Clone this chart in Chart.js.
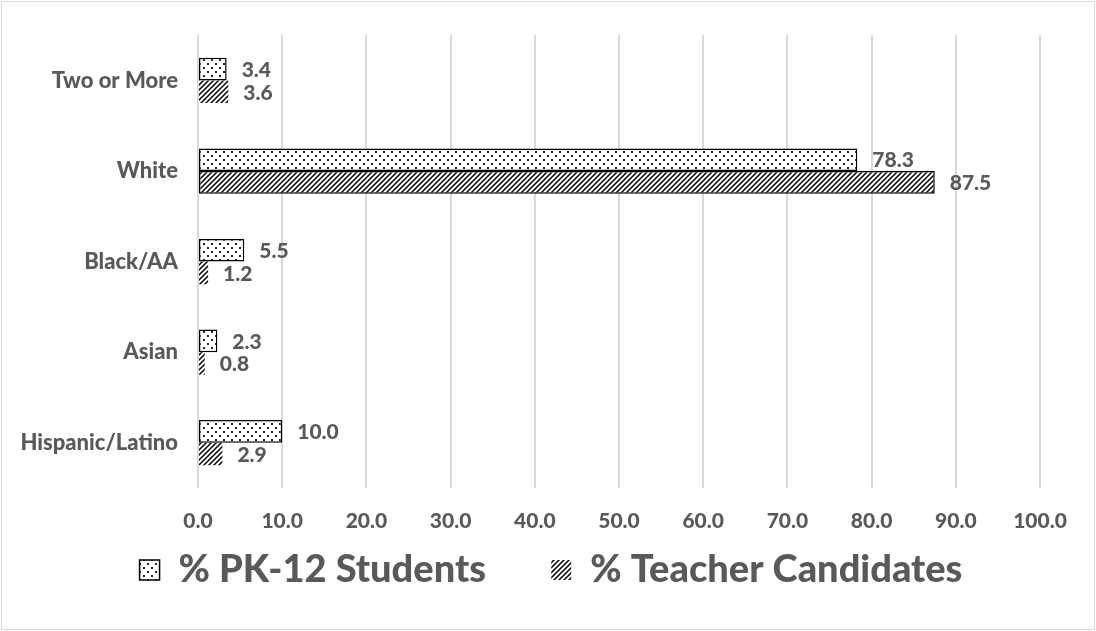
<!DOCTYPE html>
<html lang="en">
<head>
  <meta charset="UTF-8" />
  <title>Race/Ethnicity: PK-12 Students vs Teacher Candidates</title>
  <script src="https://cdn.jsdelivr.net/npm/chart.js"></script>
  <style>
    body { margin: 0; background: #fff; }
    .chart-box {
      position: absolute; left: 1px; top: 1px;
      width: 1092px; height: 627px;
      border: 1px solid #d9d9d9; background: #fff;
    }
  </style>
</head>
<body>
  <div class="chart-box">
    <canvas id="raceChart"></canvas>
  </div>

  <script>
    // Groups, top to bottom
    const categories = ["Two or More", "White", "Black/AA", "Asian", "Hispanic/Latino"];
    const studentPct = [3.4, 78.3, 5.5, 2.3, 10.0];
    const candidatePct = [3.6, 87.5, 1.2, 0.8, 2.9];
    const xTicks = [0, 10, 20, 30, 40, 50, 60, 70, 80, 90, 100];

    const grey = "#595959";
    const fontFamily = "Lato, 'Open Sans', sans-serif";

    // Dotted fill for students
    function dotPattern() {
      const c = document.createElement("canvas");
      c.width = 8; c.height = 8;
      const g = c.getContext("2d");
      g.fillStyle = "#fff";
      g.fillRect(0, 0, 8, 8);
      g.fillStyle = "#222";
      g.fillRect(1, 1, 2, 2);
      g.fillRect(5, 5, 2, 2);
      return g.createPattern(c, "repeat");
    }

    // Upward diagonal hatch for candidates
    function hatchPattern() {
      const s = 5;
      const c = document.createElement("canvas");
      c.width = s; c.height = s;
      const g = c.getContext("2d");
      g.fillStyle = "#fff";
      g.fillRect(0, 0, s, s);
      g.strokeStyle = "#000";
      g.lineWidth = 1.5;
      g.beginPath();
      g.moveTo(-1, s + 1); g.lineTo(s + 1, -1);
      g.moveTo(-1, 1); g.lineTo(1, -1);
      g.moveTo(s - 1, s + 1); g.lineTo(s + 1, s - 1);
      g.stroke();
      return g.createPattern(c, "repeat");
    }

    // Value labels to the right of each bar
    const valueLabels = {
      id: "valueLabels",
      afterDatasetsDraw(chart) {
        const ctx = chart.ctx;
        ctx.save();
        ctx.font = "900 21px " + fontFamily;
        ctx.fillStyle = grey;
        ctx.textBaseline = "middle";
        chart.data.datasets.forEach((ds, i) => {
          chart.getDatasetMeta(i).data.forEach((bar, j) => {
            ctx.fillText(ds.data[j].toFixed(1), bar.x + 15, bar.y + 1);
          });
        });
        ctx.restore();
      }
    };

    // Nudge the legend row right so it sits under the whole chart
    const legendShift = {
      id: "legendShift",
      afterUpdate(chart) {
        if (chart.legend) {
          chart.legend.left += 22;
          chart.legend.right += 22;
        }
      }
    };

    const ctx = document.getElementById("raceChart").getContext("2d");
    new Chart(ctx, {
      type: "bar",
      data: {
        labels: categories,
        datasets: [
          {
            label: "% PK-12 Students",
            data: studentPct,
            backgroundColor: dotPattern(),
            borderColor: "#000",
            borderWidth: 1.5,
            borderSkipped: false
          },
          {
            label: "% Teacher Candidates",
            data: candidatePct,
            backgroundColor: hatchPattern(),
            borderColor: "#000",
            borderWidth: [0, 1.5, 0, 0, 0],
            borderSkipped: false
          }
        ]
      },
      options: {
        indexAxis: "y",
        responsive: true,
        maintainAspectRatio: false,
        animation: false,
        categoryPercentage: 0.5,
        barPercentage: 1.0,
        layout: { padding: { left: 16, right: 54, top: 27, bottom: 30 } },
        scales: {
          x: {
            min: 0,
            max: 100,
            afterBuildTicks(axis) {
              axis.ticks = xTicks.map(v => ({ value: v }));
            },
            afterFit(axis) { axis.height = 43; },
            grid: { color: "#d9d9d9", lineWidth: 2, drawTicks: false },
            border: { display: false },
            ticks: {
              padding: 21,
              color: grey,
              font: { family: fontFamily, size: 21, weight: "900" },
              callback: v => Number(v).toFixed(1)
            }
          },
          y: {
            afterFit(axis) { axis.width = 180; },
            grid: { display: false, drawTicks: false },
            border: { display: false },
            ticks: {
              padding: 20,
              color: grey,
              font: { family: fontFamily, size: 22, weight: "900" }
            }
          }
        },
        plugins: {
          legend: {
            position: "bottom",
            labels: {
              color: grey,
              boxWidth: 20,
              boxHeight: 20,
              padding: 20,
              font: { family: fontFamily, size: 38, weight: "900" },
              generateLabels(chart) {
                const items = Chart.defaults.plugins.legend.labels.generateLabels(chart);
                // wider gap after the first entry
                items[0].text += "\u00a0\u00a0\u00a0\u00a0\u00a0";
                return items;
              }
            }
          },
          tooltip: { enabled: false }
        }
      },
      plugins: [valueLabels, legendShift]
    });
  </script>
</body>
</html>
